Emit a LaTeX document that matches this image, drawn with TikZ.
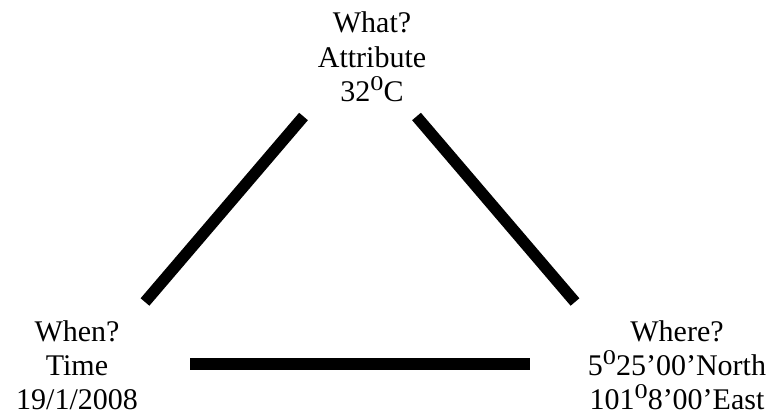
\documentclass[tikz,border=0pt]{standalone}
\usepackage{fontspec}
\setmainfont{Liberation Serif}
\newcommand{\supz}{\raisebox{11pt}{\scalebox{1.25}[1]{\fontsize{21}{21}\selectfont 0}}}
\begin{document}
\begin{tikzpicture}[x=1pt,y=-1pt,
  lbl/.style={align=center,inner sep=0pt,anchor=base,font=\fontsize{30}{34.5}\selectfont},
  bar/.style={line width=11.5pt,line cap=butt,black}]
\useasboundingbox (0,0) rectangle (774,419);
\node[lbl] (what) at (372,102) {What?\\Attribute\\32\supz C};
\node[lbl] (when) at (77,410) {When?\\Time\\19/1/2008};
\node[lbl] (where) at (677,410) {Where?\\5\supz 25’00’North\\101\supz 8’00’East};
\coordinate (wl) at (303.5,116.5);
\coordinate (wr) at (416.5,116.5);
\coordinate (nl) at (145,302);
\coordinate (el) at (575,302);
\coordinate (nb) at (190,364);
\coordinate (eb) at (530,364);
\draw[bar] (nl) -- (wl);
\draw[bar] (wr) -- (el);
\draw[bar] (nb) -- (eb);
\end{tikzpicture}
\end{document}
